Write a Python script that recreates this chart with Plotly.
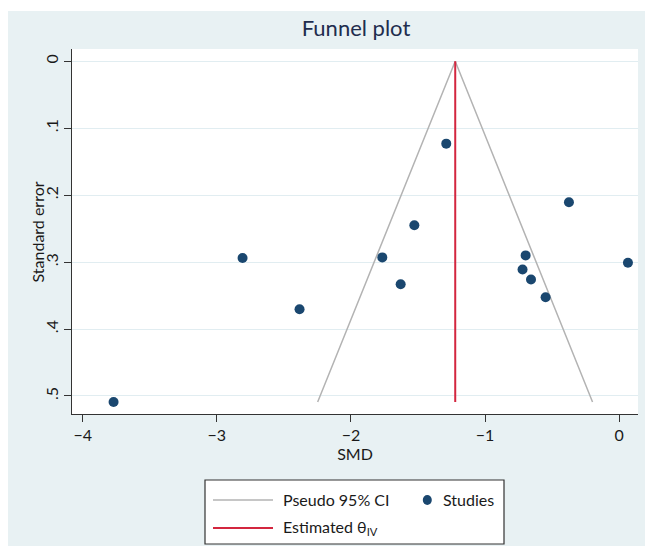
import plotly.graph_objects as go

# ---- data ----
smd = [-3.770, -2.808, -2.383, -1.289, -1.527, -1.766, -1.629,
       -0.374, -0.697, -0.720, -0.657, -0.548, 0.066]
se = [0.509, 0.294, 0.3705, 0.123, 0.245, 0.293, 0.333,
      0.2105, 0.290, 0.311, 0.326, 0.3526, 0.301]
theta_iv = -1.222
se_max = 0.509
ci_lower_at_max = -2.248
ci_upper_at_max = -0.198

x_ticks = [-4, -3, -2, -1, 0]
x_tick_labels = ["\u22124", "\u22123", "\u22122", "\u22121", "0"]
y_ticks = [0, 0.1, 0.2, 0.3, 0.4, 0.5]
y_tick_labels = ["0", ".1", ".2", ".3", ".4", ".5"]

FONT = "Lato"
NAVY = "#1a476f"
RED = "#d3263f"
GRAY = "#b3b3b3"
BG = "#e8f1f3"
AX = "#333333"
TXT = "#1a1a1a"

fig = go.Figure()

fig.add_trace(go.Scatter(
    x=[ci_lower_at_max, theta_iv, ci_upper_at_max],
    y=[se_max, 0, se_max],
    mode="lines", line=dict(color=GRAY, width=1.5),
    name="Pseudo 95% CI", showlegend=False, hoverinfo="skip"))

fig.add_trace(go.Scatter(
    x=[theta_iv, theta_iv], y=[0, se_max],
    mode="lines", line=dict(color=RED, width=2),
    name="Estimated θIV", showlegend=False))

fig.add_trace(go.Scatter(
    x=smd, y=se, mode="markers",
    marker=dict(color=NAVY, size=10, line=dict(width=0)),
    name="Studies", showlegend=False))

# The page body adds an 8px margin; figure pixels = page pixels - 8
OFF = 8
W, H = 645, 538
L, R, T, B = 64, 15, 41, 132
pw = W - L - R
ph = H - T - B


def px2x(px):  # page pixel -> paper x
    return (px - OFF - L) / pw


def px2y(py):  # page pixel -> paper y
    return (H - B - (py - OFF)) / ph


shapes = [
    # thin white strip at the very top of the graph region
    dict(type="rect", xref="paper", yref="paper", layer="below",
         x0=px2x(0), x1=px2x(W + 20), y0=px2y(11), y1=px2y(0),
         fillcolor="white", line=dict(width=0)),
    # legend box
    dict(type="rect", xref="paper", yref="paper",
         x0=px2x(205), x1=px2x(504), y0=px2y(544), y1=px2y(480),
         fillcolor="white", line=dict(color=AX, width=1.2)),
    dict(type="line", xref="paper", yref="paper",
         x0=px2x(213), x1=px2x(273), y0=px2y(500), y1=px2y(500),
         line=dict(color=GRAY, width=1.5)),
    dict(type="line", xref="paper", yref="paper",
         x0=px2x(213), x1=px2x(273), y0=px2y(528), y1=px2y(528),
         line=dict(color=RED, width=2)),
    dict(type="circle", xref="paper", yref="paper",
         xsizemode="pixel", ysizemode="pixel",
         xanchor=px2x(427.3), yanchor=px2y(500),
         x0=-4.5, x1=4.5, y0=-5, y1=5,
         fillcolor=NAVY, line=dict(width=0)),
]

leg_font = dict(family=FONT, size=16, color=TXT)
annotations = [
    dict(text="Pseudo 95% CI", xref="paper", yref="paper",
         x=px2x(280.5), y=px2y(500), xanchor="left", yanchor="middle",
         showarrow=False, font=leg_font),
    dict(text="Studies", xref="paper", yref="paper",
         x=px2x(440.5), y=px2y(500), xanchor="left", yanchor="middle",
         showarrow=False, font=leg_font),
    dict(text="Estimated θ<sub>IV</sub>", xref="paper", yref="paper",
         x=px2x(280.5), y=px2y(527), xanchor="left", yanchor="middle",
         showarrow=False, font=leg_font),
    # y-axis title
    dict(text="Standard error", xref="paper", yref="paper",
         x=px2x(36.5), y=px2y(232), xanchor="center", yanchor="middle",
         textangle=-90, showarrow=False, font=leg_font),
]

fig.update_layout(
    width=W, height=H,
    margin=dict(l=L, r=R, t=T, b=B, pad=0),
    paper_bgcolor=BG, plot_bgcolor="white",
    showlegend=False,
    font=dict(family=FONT, size=16, color=TXT),
    title=dict(text="Funnel plot", x=(356 - OFF) / W, xanchor="center",
               y=1 - (28 - OFF) / H, yanchor="middle",
               font=dict(family=FONT, size=22, color="#1f2d4e")),
    shapes=shapes, annotations=annotations,
    xaxis=dict(range=[-4.080, 0.141], tickvals=x_ticks, ticktext=x_tick_labels,
               showgrid=False, zeroline=False, showline=True, linecolor=AX,
               linewidth=1.2, ticks="outside", ticklen=7, tickcolor=AX,
               tickwidth=1.2, tickfont=dict(family=FONT, size=16, color=TXT),
               title=dict(text="SMD", standoff=5,
                          font=dict(family=FONT, size=16, color=TXT))),
    yaxis=dict(range=[0.527, -0.0184], tickvals=y_ticks, ticktext=y_tick_labels,
               tickangle=-90, showgrid=True, gridcolor="#e1edf1", gridwidth=1,
               zeroline=False, showline=True, linecolor=AX, linewidth=1.2,
               ticks="outside", ticklen=7, tickcolor=AX, tickwidth=1.2,
               tickfont=dict(family=FONT, size=16, color=TXT)),
)

fig.write_html("out.html")
